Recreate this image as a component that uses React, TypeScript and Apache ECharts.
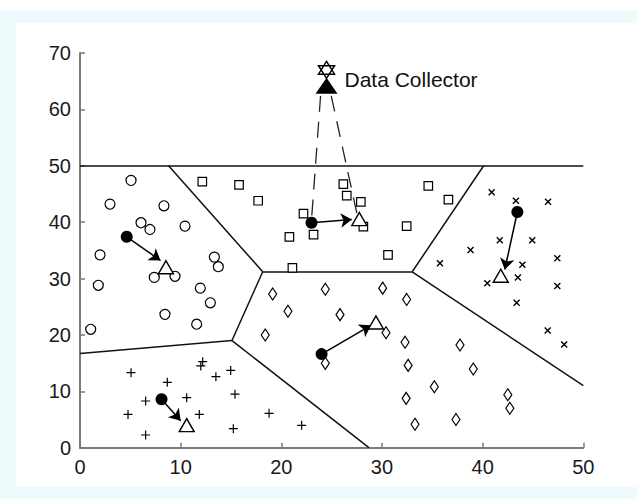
import React, { useEffect, useRef } from "react";
import * as echarts from "echarts";

// ---- data ----
const xTicks = [0, 10, 20, 30, 40, 50];
const yTicks = [0, 10, 20, 30, 40, 50, 60, 70];

const circlePts = [
  [5.07, 47.4], [2.98, 43.2], [8.34, 42.9], [6.06, 39.9], [6.95, 38.7], [10.43, 39.3],
  [1.99, 34.2], [13.35, 33.8], [13.74, 32.1], [7.38, 30.2], [9.44, 30.4], [1.82, 28.8],
  [11.95, 28.3], [12.95, 25.7], [8.44, 23.65], [11.59, 21.9], [1.06, 21.0],
];
const squarePts = [
  [12.15, 47.2], [15.8, 46.6], [17.7, 43.8], [26.16, 46.75], [26.5, 44.7], [27.9, 43.6],
  [22.2, 41.5], [20.8, 37.4], [23.2, 37.8], [28.15, 39.2], [32.45, 39.3], [34.6, 46.45],
  [30.6, 34.2], [21.1, 31.9], [36.6, 44.0],
];
const crossPts = [
  [40.9, 45.3], [43.3, 43.8], [46.5, 43.6], [41.7, 36.8], [44.93, 36.8], [38.8, 35.05],
  [35.76, 32.7], [47.42, 33.6], [43.95, 32.45], [43.5, 30.2], [40.46, 29.15], [47.42, 28.67],
  [43.38, 25.7], [46.46, 20.8], [48.1, 18.3],
];
const diamondPts = [
  [19.14, 27.25], [24.37, 28.1], [30.07, 28.3], [32.45, 26.3], [20.66, 24.2], [25.83, 23.6],
  [18.4, 20.0], [30.4, 20.4], [32.29, 18.7], [24.37, 14.96], [32.6, 14.6], [35.2, 10.8],
  [32.4, 8.75], [33.28, 4.15], [37.75, 18.2], [39.07, 13.95], [37.35, 5.0], [42.5, 9.4],
  [42.7, 7.0],
];
const plusPts = [
  [5.07, 13.3], [12.19, 15.25], [12.0, 14.5], [14.97, 13.7], [13.5, 12.6], [8.67, 11.6],
  [15.4, 9.5], [10.6, 8.87], [6.52, 8.28], [4.77, 5.9], [11.85, 5.9], [15.23, 3.37],
  [6.52, 2.25], [18.78, 6.1], [22.02, 3.96],
];
// filled circles (current positions), arrow tips, triangles (new positions)
const headPts = [[4.64, 37.4], [23.0, 39.9], [43.45, 41.8], [24.0, 16.6], [8.1, 8.6]];
const arrowTips = [[8.0, 33.2], [27.0, 40.45], [42.2, 31.6], [28.9, 21.7], [10.0, 4.8]];
const trianglePts = [[8.54, 32.0], [27.75, 40.55], [41.8, 30.5], [29.4, 22.2], [10.6, 4.0]];

// region boundaries
const boundaryEdges = [
  [[0, 50], [50, 50]],
  [[8.8, 50], [18.15, 31.2]],
  [[18.15, 31.2], [33.0, 31.2]],
  [[33.0, 31.2], [40.1, 50]],
  [[33.0, 31.2], [50, 11]],
  [[18.15, 31.2], [15.1, 19.0]],
  [[15.1, 19.0], [0, 16.7]],
  [[15.1, 19.0], [28.7, 0]],
];

// data collector
const collectorStar = [24.49, 67.0];
const collectorBody = [24.49, 64.2];
const collectorLabel = "Data Collector";
const dashedLinks = [
  [[23.9, 62.4], [23.0, 40.4]],
  [[24.96, 62.4], [27.5, 41.6]],
];

const FONT = "'Liberation Sans', Arial, Helvetica, sans-serif";
const INK = "#000";

const hollow = { color: "#fff", borderColor: INK, borderWidth: 1.2, opacity: 1 };

export default function App() {
  const ref = useRef<HTMLDivElement>(null);

  useEffect(() => {
    if (!ref.current) return;
    const chart = echarts.init(ref.current, undefined, { renderer: "svg" });
    const axisCommon = {
      type: "value",
      interval: 10,
      axisLine: { show: true, onZero: false, lineStyle: { color: "#7a7a7a", width: 2 } },
      axisTick: { show: true, inside: true, length: 5, lineStyle: { color: "#7a7a7a", width: 1.5 } },
      splitLine: { show: false },
      axisLabel: { color: "#1a1a1a", fontSize: 20, fontFamily: FONT, margin: 9 },
    };
    chart.setOption({
      animation: false,
      backgroundColor: "transparent",
      grid: { left: 80, right: 53.7, top: 53, bottom: 51.3 },
      xAxis: { ...axisCommon, min: xTicks[0], max: xTicks[xTicks.length - 1] },
      yAxis: { ...axisCommon, min: yTicks[0], max: yTicks[yTicks.length - 1] },
      series: [
        {
          type: "lines",
          coordinateSystem: "cartesian2d",
          z: 1,
          silent: true,
          lineStyle: { color: "#111", width: 1.5, opacity: 1 },
          data: boundaryEdges.map((c) => ({ coords: c })),
        },
        {
          type: "lines",
          coordinateSystem: "cartesian2d",
          z: 1,
          silent: true,
          lineStyle: { color: "#222", width: 1.3, type: [16, 10], opacity: 1 },
          data: dashedLinks.map((c) => ({ coords: c })),
        },
        {
          type: "lines",
          coordinateSystem: "cartesian2d",
          z: 3,
          silent: true,
          symbol: ["none", "arrow"],
          symbolSize: 11,
          lineStyle: { color: INK, width: 1.5, opacity: 1 },
          data: headPts.map((p, i) => ({ coords: [p, arrowTips[i]] })),
        },
        { type: "scatter", z: 2, symbol: "circle", symbolSize: 10, itemStyle: hollow, data: circlePts },
        { type: "scatter", z: 2, symbol: "rect", symbolSize: 8.5, itemStyle: hollow, data: squarePts },
        { type: "scatter", z: 2, symbol: "diamond", symbolSize: [8, 12], itemStyle: hollow, data: diamondPts },
        {
          type: "scatter",
          z: 2,
          symbol: "path://M0,0L10,10M10,0L0,10",
          symbolSize: 6,
          itemStyle: { color: "none", borderColor: INK, borderWidth: 1.4, opacity: 1 },
          data: crossPts,
        },
        {
          type: "scatter",
          z: 2,
          symbol: "path://M5,0L5,10M0,5L10,5",
          symbolSize: 9,
          itemStyle: { color: "none", borderColor: INK, borderWidth: 1.2, opacity: 1 },
          data: plusPts,
        },
        { type: "scatter", z: 4, symbol: "circle", symbolSize: 12, itemStyle: { color: INK, opacity: 1 }, data: headPts },
        {
          type: "scatter",
          z: 4,
          symbol: "triangle",
          symbolSize: [15, 13],
          itemStyle: { color: "#fff", borderColor: INK, borderWidth: 1.4, opacity: 1 },
          data: trianglePts,
        },
        {
          type: "scatter",
          z: 5,
          symbol: "triangle",
          symbolSize: [22, 16],
          itemStyle: { color: INK, opacity: 1 },
          label: {
            show: true,
            position: "right",
            distance: 7,
            offset: [0, -6],
            formatter: collectorLabel,
            color: "#111",
            fontSize: 21,
            fontFamily: FONT,
          },
          data: [collectorBody],
        },
        {
          type: "scatter",
          z: 6,
          symbol: "path://M0,-10L8.66,5L-8.66,5ZM0,10L8.66,-5L-8.66,-5Z",
          symbolSize: [16, 17],
          itemStyle: { color: "#fff", borderColor: INK, borderWidth: 1.5, opacity: 1 },
          data: [collectorStar],
        },
      ],
    });
    return () => chart.dispose();
  }, []);

  return (
    <div style={{ position: "absolute", left: 0, top: 0, width: 637, height: 499, background: "#fff", overflow: "hidden" }}>
      <div style={{ position: "absolute", left: 0, top: 10, right: 0, bottom: 0, background: "#eefbfd" }} />
      <div style={{ position: "absolute", left: 16, top: 23, right: 0, bottom: 12, background: "#fff" }} />
      <div ref={ref} style={{ position: "absolute", left: 0, top: 0, width: 637, height: 499 }} />
    </div>
  );
}
